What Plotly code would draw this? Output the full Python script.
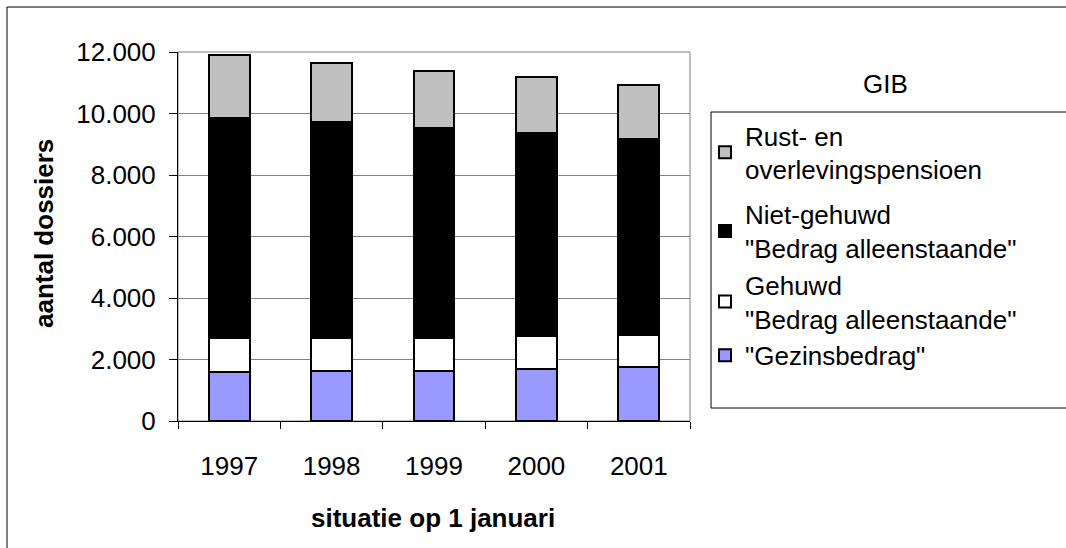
import plotly.graph_objects as go

years = ["1997", "1998", "1999", "2000", "2001"]
gezinsbedrag = [1590, 1610, 1630, 1695, 1750]
gehuwd = [1105, 1105, 1085, 1055, 1040]
niet_gehuwd = [7145, 6995, 6805, 6620, 6380]
rust = [2050, 1930, 1860, 1820, 1760]

series_names = [
    '"Gezinsbedrag"',
    'Gehuwd<br>"Bedrag alleenstaande"',
    'Niet-gehuwd<br>"Bedrag alleenstaande"',
    'Rust- en<br>overlevingspensioen',
]
series_values = [gezinsbedrag, gehuwd, niet_gehuwd, rust]
series_colors = ["#9999FF", "#FFFFFF", "#000000", "#C0C0C0"]
series_groups = ["b", "b", "b", "a"]
series_ranks = [4, 3, 2, 1]

FONT = "Liberation Sans, Arial, sans-serif"
FS = 26

W, H = 1066, 548
L, R, T, B = 178, 376, 52, 127
PW, PH = W - L - R, H - T - B


def px(x):
    return (x - L) / PW


def py(y):
    return (H - B - y) / PH


fig = go.Figure()
for name, vals, col, grp, rk in zip(series_names, series_values, series_colors,
                                    series_groups, series_ranks):
    fig.add_trace(go.Bar(
        x=years, y=vals, name=name, legendgroup=grp, legendrank=rk,
        marker=dict(color=col, line=dict(color="#000000", width=2)),
    ))

fig.update_layout(
    width=W, height=H,
    barmode="stack", bargap=0.6,
    separators=",.",
    paper_bgcolor="white", plot_bgcolor="white",
    font=dict(family=FONT, size=FS, color="black"),
    margin=dict(l=L, r=R, t=T, b=B, autoexpand=False),
    legend=dict(
        x=px(705), y=py(112), xanchor="left", yanchor="top",
        traceorder="grouped", tracegroupgap=8,
        bgcolor="rgba(0,0,0,0)",
        font=dict(family=FONT, size=FS, color="black"),
    ),
    xaxis=dict(
        type="category", tickson="boundaries", ticks="outside", ticklen=7,
        tickcolor="black", showline=True, linecolor="black", linewidth=1,
        showgrid=False, ticklabelstandoff=22,
        tickfont=dict(family=FONT, size=FS),
    ),
    yaxis=dict(
        range=[0, 12000], dtick=2000, tickformat=",d",
        ticks="outside", ticklen=8, tickcolor="black",
        showline=True, linecolor="black", linewidth=1,
        showgrid=True, gridcolor="#808080", gridwidth=1,
        zeroline=False, ticklabelstandoff=8,
        tickfont=dict(family=FONT, size=FS),
    ),
    shapes=[
        dict(type="rect", xref="paper", yref="paper", x0=0, x1=1, y0=0, y1=1,
             line=dict(color="#808080", width=1), layer="below"),
        dict(type="rect", xref="paper", yref="paper",
             x0=px(711), x1=px(1080), y0=py(408), y1=py(112),
             line=dict(color="black", width=1)),
        dict(type="rect", xref="paper", yref="paper",
             x0=px(7), x1=px(1080), y0=py(560), y1=py(7),
             line=dict(color="black", width=1)),
    ],
    annotations=[
        dict(text="<b>situatie op 1 januari</b>", xref="paper", yref="paper",
             x=px(433), y=py(518), xanchor="center", yanchor="middle",
             showarrow=False, font=dict(family=FONT, size=FS)),
        dict(text="<b>aantal dossiers</b>", xref="paper", yref="paper",
             x=px(44), y=py(234), xanchor="center", yanchor="middle",
             textangle=-90, showarrow=False, font=dict(family=FONT, size=FS)),
        dict(text="GIB", xref="paper", yref="paper",
             x=px(885), y=py(84), xanchor="center", yanchor="middle",
             showarrow=False, font=dict(family=FONT, size=FS)),
    ],
)

fig.write_html(
    "out.html",
    config={"displayModeBar": False},
    post_script="document.body.style.margin='0';document.body.style.overflow='hidden';",
)
